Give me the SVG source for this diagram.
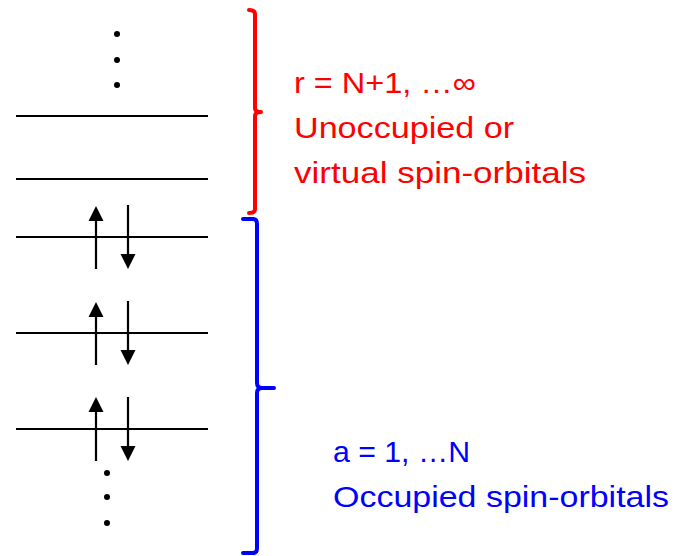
<svg xmlns="http://www.w3.org/2000/svg" width="684" height="556" viewBox="0 0 684 556">
<style>
.lvl{stroke:#000;stroke-width:2;fill:none}
.spin{stroke:#000;stroke-width:2.2;fill:none}
.dot{fill:#000}
.br{fill:none;stroke-width:4;stroke-linecap:round;stroke-linejoin:round}
.t{font-family:"Liberation Sans",Arial,sans-serif;font-size:30px}
.red{fill:#FF0000}
.blue{fill:#0000FF}
</style>
<defs>
<path id="up" d="M0,0 L7.5,15 L-7.5,15 Z" fill="#000"/>
<path id="down" d="M0,0 L7.5,-15 L-7.5,-15 Z" fill="#000"/>
</defs>
<rect width="684" height="556" fill="#fff"/>
<g id="virtual-levels">
<circle class="dot" cx="117" cy="34" r="3"/>
<circle class="dot" cx="117" cy="60" r="3"/>
<circle class="dot" cx="117" cy="85" r="3"/>
<line class="lvl" x1="16" y1="116" x2="208" y2="116"/>
<line class="lvl" x1="16" y1="179" x2="208" y2="179"/>
</g>
<g id="occupied-levels">
<line class="lvl" x1="16" y1="237" x2="208" y2="237"/>
<line class="lvl" x1="16" y1="333" x2="208" y2="333"/>
<line class="lvl" x1="16" y1="429" x2="208" y2="429"/>
<line class="spin" x1="96" y1="269" x2="96" y2="215"/>
<use href="#up" x="96" y="206"/>
<line class="spin" x1="128" y1="205" x2="128" y2="260"/>
<use href="#down" x="128" y="269"/>
<line class="spin" x1="96" y1="365" x2="96" y2="311"/>
<use href="#up" x="96" y="302"/>
<line class="spin" x1="128" y1="301" x2="128" y2="356"/>
<use href="#down" x="128" y="365"/>
<line class="spin" x1="96" y1="461" x2="96" y2="406"/>
<use href="#up" x="96" y="397"/>
<line class="spin" x1="128" y1="397" x2="128" y2="452"/>
<use href="#down" x="128" y="461"/>
<circle class="dot" cx="107" cy="473" r="3"/>
<circle class="dot" cx="107" cy="497" r="3"/>
<circle class="dot" cx="107" cy="523" r="3"/>
</g>
<g id="virtual-bracket">
<path class="br" stroke="#FF0000" d="M249,10 Q255,10 255,14 L255,108 Q255,112 261,112 Q255,112 255,116 L255,209 Q255,213 249,213"/>
<text class="t red" x="294" y="93" textLength="182" lengthAdjust="spacingAndGlyphs">r = N+1, …∞</text>
<text class="t red" x="294" y="138" textLength="220" lengthAdjust="spacingAndGlyphs">Unoccupied or</text>
<text class="t red" x="294" y="183" textLength="292" lengthAdjust="spacingAndGlyphs">virtual spin-orbitals</text>
</g>
<g id="occupied-bracket">
<path class="br" stroke="#0000FF" d="M243,219 L253,219 Q257,219 257,224 L257,383 Q257,388 262,388 L274,388 M262,388 Q257,388 257,393 L257,548 Q257,553 253,553 L243,553"/>
<text class="t blue" x="333" y="462" textLength="137" lengthAdjust="spacingAndGlyphs">a = 1, …N</text>
<text class="t blue" x="333" y="507" textLength="336" lengthAdjust="spacingAndGlyphs">Occupied spin-orbitals</text>
</g>
</svg>
